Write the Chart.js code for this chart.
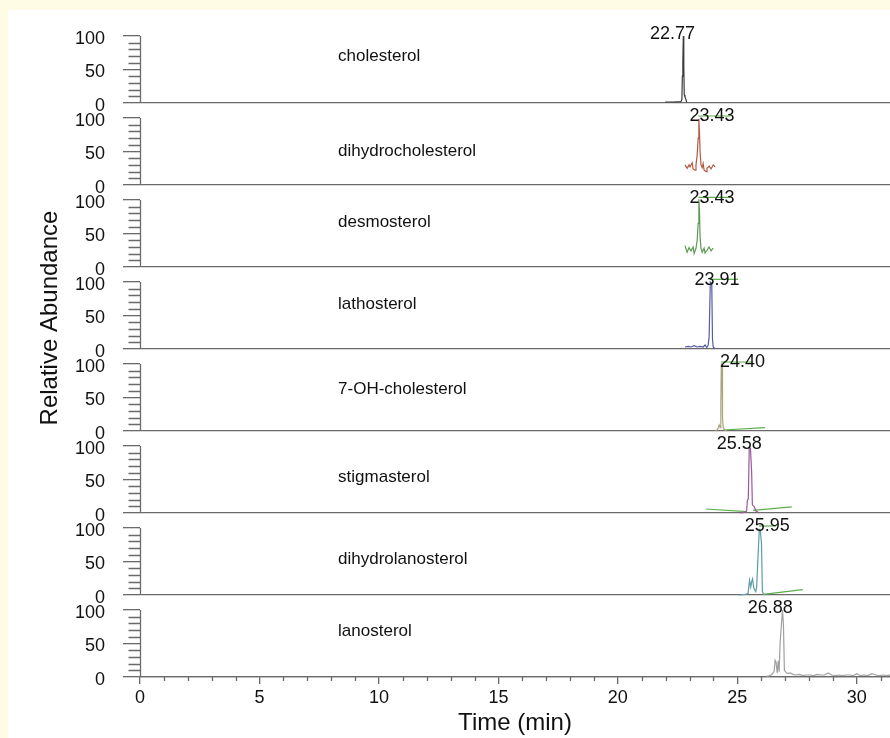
<!DOCTYPE html>
<html>
<head>
<meta charset="utf-8">
<script src="https://cdn.jsdelivr.net/npm/chart.js@4.4.0/dist/chart.umd.min.js"></script>
<style>
html, body { margin: 0; padding: 0; background: #fffce6; overflow: hidden; }
#sheet { position: absolute; left: 8px; top: 10px; width: 882px; height: 728px; background: #fff; }
#wrap { position: absolute; left: 0; top: 0; width: 890px; height: 738px; }
</style>
</head>
<body>
<div id="sheet"></div>
<div id="wrap"><canvas id="chart" width="890" height="738"></canvas></div>
<script>
// compounds, top strip first
var compounds = ['cholesterol', 'dihydrocholesterol', 'desmosterol', 'lathosterol',
	'7-OH-cholesterol', 'stigmasterol', 'dihydrolanosterol', 'lanosterol'];
var peakLabels = ['22.77', '23.43', '23.43', '23.91', '24.40', '25.58', '25.95', '26.88'];

// traces: time (min) / relative abundance (%)
var cholesterolTime = [21.98, 22.30, 22.64, 22.68, 22.70, 22.72, 22.74, 22.76, 22.78, 22.81, 22.85, 22.88];
var cholesterolAbund = [1.5, 1.5, 2, 5, 40, 62, 100, 55, 12, 9, 5, 1];

var dihydrocholTime = [22.81, 22.90, 22.98, 23.02, 23.11, 23.15, 23.23, 23.27, 23.32, 23.36, 23.39, 23.42,
	23.44, 23.48, 23.53, 23.57, 23.61, 23.69, 23.73, 23.82, 23.90, 23.99, 24.07];
var dihydrocholAbund = [30, 25, 30, 27, 33, 24, 22, 30, 45, 70, 99, 75, 50, 30, 26, 32, 22, 20, 25, 28, 24, 30, 27];

var desmosterolTime = [22.81, 22.90, 22.98, 23.06, 23.15, 23.19, 23.27, 23.32, 23.36, 23.39, 23.42, 23.44,
	23.48, 23.53, 23.61, 23.65, 23.73, 23.82, 23.90, 23.99];
var desmosterolAbund = [32, 22, 29, 24, 30, 20, 28, 40, 65, 101, 80, 45, 28, 22, 28, 21, 25, 30, 24, 28];

var lathosterolTime = [22.81, 22.94, 23.06, 23.19, 23.32, 23.44, 23.57, 23.65, 23.72, 23.78, 23.82, 23.87,
	23.93, 23.96, 23.99, 24.07];
var lathosterolAbund = [3, 4, 3, 5, 3, 4, 3, 6, 2, 6, 18, 100, 98, 15, 3, 0];

var hydroxyTime = [24.10, 24.18, 24.24, 24.28, 24.31, 24.33, 24.36, 24.38, 24.41, 24.47, 24.56];
var hydroxyAbund = [0, 3, 9, 5, 40, 100, 99, 20, 5, 2, 0];

var stigmasterolTime = [25.11, 25.28, 25.39, 25.42, 25.46, 25.50, 25.55, 25.60, 25.63, 25.70, 25.78, 25.91];
var stigmasterolAbund = [0, 1, 3, 19, 21, 98, 97, 60, 12, 10, 3, 0];

var dihydrolanTime = [25.04, 25.33, 25.45, 25.51, 25.56, 25.60, 25.64, 25.69, 25.77, 25.81, 25.85, 25.89,
	25.92, 25.96, 26.01, 26.05, 26.12];
var dihydrolanAbund = [0, 1, 2, 22, 12, 20, 24, 10, 5, 12, 45, 75, 98, 97, 78, 5, 0];

var lanosterolTime = [26.23, 26.37, 26.45, 26.54, 26.58, 26.62, 26.67, 26.71, 26.75, 26.79, 26.84, 26.89,
	26.93, 26.97, 27.04, 27.12, 27.21, 27.33, 27.45, 27.6, 27.75, 27.9, 28.05, 28.2, 28.35, 28.5, 28.65,
	28.8, 28.95, 29.1, 29.25, 29.4, 29.55, 29.7, 29.85, 30.0, 30.15, 30.3, 30.45, 30.63, 30.8, 30.95,
	31.1, 31.25, 31.4];
var lanosterolAbund = [1, 2, 4, 8, 25, 22, 6, 24, 8, 50, 75, 100, 78, 10, 7, 5, 6, 4, 3, 4, 2, 3, 3, 2,
	4, 3, 3, 6, 3, 2, 3, 2, 3, 3, 2, 5, 2, 3, 2, 5, 3, 2, 3, 2, 3];

// green integration marks: strip index, start/end time, start/end abundance
var markStrip = [1, 2, 3, 4, 4, 5, 5, 6, 6];
var markStart = [23.36, 23.37, 23.86, 24.32, 24.40, 23.69, 25.66, 25.91, 26.08];
var markEnd = [24.71, 24.71, 25.03, 25.66, 26.16, 25.40, 27.28, 26.62, 27.74];
var markFrom = [103, 104, 104, 103, 1.5, 6, 4, 103, 1];
var markTo = [103, 104, 104, 103, 5, 2, 9, 103, 8];

var xTicks = [];
for (var t = 0; t <= 31; t++) xTicks.push(t);

//style
var traces = [[cholesterolTime, cholesterolAbund], [dihydrocholTime, dihydrocholAbund],
	[desmosterolTime, desmosterolAbund], [lathosterolTime, lathosterolAbund], [hydroxyTime, hydroxyAbund],
	[stigmasterolTime, stigmasterolAbund], [dihydrolanTime, dihydrolanAbund], [lanosterolTime, lanosterolAbund]];
var colors = ['#3c3c3c', '#b35a44', '#5c9a52', '#5858a8', '#aaa57e', '#9b579b', '#5b9da4', '#a0a0a0'];
var markColor = '#5cae4a';
var AXIS = '#6a6a6a';
var CLEAR = 'rgba(0,0,0,0)';
var FONT = '"Liberation Sans", Arial, sans-serif';
var PANEL = 122.4; // one strip = 100 % plus the gap down to the next strip
var nameTime = 8.29;
var nameLevel = [70, 50, 67, 67, 62, 53, 53, 68];
var peakLabelTime = [22.29, 23.94, 23.94, 24.15, 25.22, 25.08, 26.25, 26.38];

function baseOf(i) {
	return (compounds.length - 1 - i) * PANEL;
}

var datasets = [];
traces.forEach(function(tr, i) {
	datasets.push({
		data : tr[0].map(function(tt, k) { return { x : tt, y : baseOf(i) + tr[1][k] }; }),
		borderColor : colors[i],
		borderWidth : 1.2,
		pointRadius : 0,
		tension : 0
	});
});
markStrip.forEach(function(s, k) {
	datasets.push({
		data : [{ x : markStart[k], y : baseOf(s) + markFrom[k] }, { x : markEnd[k], y : baseOf(s) + markTo[k] }],
		borderColor : markColor,
		borderWidth : 1.2,
		pointRadius : 0
	});
});

var stripPlugin = {
	id : 'strips',
	afterDatasetsDraw : function(chart) {
		var ctx = chart.ctx, xs = chart.scales.x, ys = chart.scales.y;
		var left = Math.round(xs.left) + 0.5;
		ctx.save();
		ctx.strokeStyle = AXIS;
		ctx.lineWidth = 1.3;
		ctx.beginPath();
		// minor ticks along time axis
		xTicks.forEach(function(m) {
			if (m % 5 === 0) return;
			var px = Math.round(xs.getPixelForValue(m)) + 0.5;
			ctx.moveTo(px, xs.top);
			ctx.lineTo(px, xs.top + 4);
		});
		compounds.forEach(function(name, i) {
			var b = baseOf(i);
			ctx.moveTo(left, ys.getPixelForValue(b));
			ctx.lineTo(left, ys.getPixelForValue(b + 100));
			for (var r = 10; r < 100; r += 10) {
				if (r === 50) continue;
				var py = Math.round(ys.getPixelForValue(b + r)) + 0.5;
				ctx.moveTo(left - 12, py);
				ctx.lineTo(left, py);
			}
		});
		ctx.stroke();

		ctx.fillStyle = '#111';
		compounds.forEach(function(name, i) {
			var b = baseOf(i);
			ctx.font = '17px ' + FONT;
			ctx.textAlign = 'left';
			ctx.textBaseline = 'middle';
			ctx.fillText(name, xs.getPixelForValue(nameTime), ys.getPixelForValue(b + nameLevel[i]));
			ctx.font = '18px ' + FONT;
			ctx.textAlign = 'center';
			ctx.textBaseline = 'alphabetic';
			ctx.fillText(peakLabels[i], xs.getPixelForValue(peakLabelTime[i]), ys.getPixelForValue(b + 96));
		});

		ctx.translate(50, 318);
		ctx.rotate(-Math.PI / 2);
		ctx.font = '24px ' + FONT;
		ctx.textAlign = 'center';
		ctx.textBaseline = 'middle';
		ctx.fillText('Relative Abundance', 0, 0);
		ctx.restore();
	}
};

new Chart(document.getElementById('chart'), {
	type : 'line',
	data : { datasets : datasets },
	plugins : [stripPlugin],
	options : {
		responsive : false,
		animation : false,
		devicePixelRatio : 1,
		layout : { padding : { top : 21, right : 0, bottom : 0, left : 0 } },
		plugins : { legend : { display : false }, tooltip : { enabled : false } },
		scales : {
			x : {
				type : 'linear',
				min : 0,
				max : 31.39,
				afterBuildTicks : function(scale) {
					scale.ticks = xTicks.map(function(v) { return { value : v }; });
				},
				afterFit : function(scale) {
					scale.height = 61;
					scale.paddingLeft = 0;
					scale.paddingRight = 0;
				},
				ticks : {
					autoSkip : false,
					maxRotation : 0,
					padding : 3,
					color : '#111',
					font : { family : FONT, size : 18 },
					callback : function(v) { return v % 5 === 0 ? String(v) : ''; }
				},
				grid : {
					drawOnChartArea : false,
					tickLength : 7,
					lineWidth : 1.3,
					tickColor : function(c) { return c.tick && c.tick.value % 5 === 0 ? AXIS : CLEAR; }
				},
				border : { display : true, color : AXIS, width : 1.3 },
				title : {
					display : true,
					text : 'Time (min)',
					color : '#111',
					font : { family : FONT, size : 24, lineHeight : 1.2 },
					padding : { top : 0, bottom : 0 }
				}
			},
			y : {
				type : 'linear',
				min : 0,
				max : PANEL * 8,
				afterBuildTicks : function(scale) {
					var ticks = [];
					for (var i = compounds.length - 1; i >= 0; i--) {
						for (var r = 0; r <= 100; r += 10) ticks.push({ value : baseOf(i) + r, rel : r });
					}
					scale.ticks = ticks;
				},
				afterFit : function(scale) {
					scale.width = 140;
					scale.paddingTop = 0;
					scale.paddingBottom = 0;
				},
				ticks : {
					autoSkip : false,
					padding : 18,
					labelOffset : 3,
					color : '#111',
					font : { family : FONT, size : 18 },
					callback : function(v, idx, ticks) {
						var r = ticks[idx].rel;
						return r % 50 === 0 ? String(r) : '';
					}
				},
				grid : {
					drawOnChartArea : true,
					tickLength : 17,
					lineWidth : 1.3,
					color : function(c) { return c.tick && c.tick.rel === 0 ? AXIS : CLEAR; },
					tickColor : function(c) { return c.tick && c.tick.rel % 50 === 0 ? AXIS : CLEAR; }
				},
				border : { display : false }
			}
		}
	}
});
</script>
</body>
</html>
